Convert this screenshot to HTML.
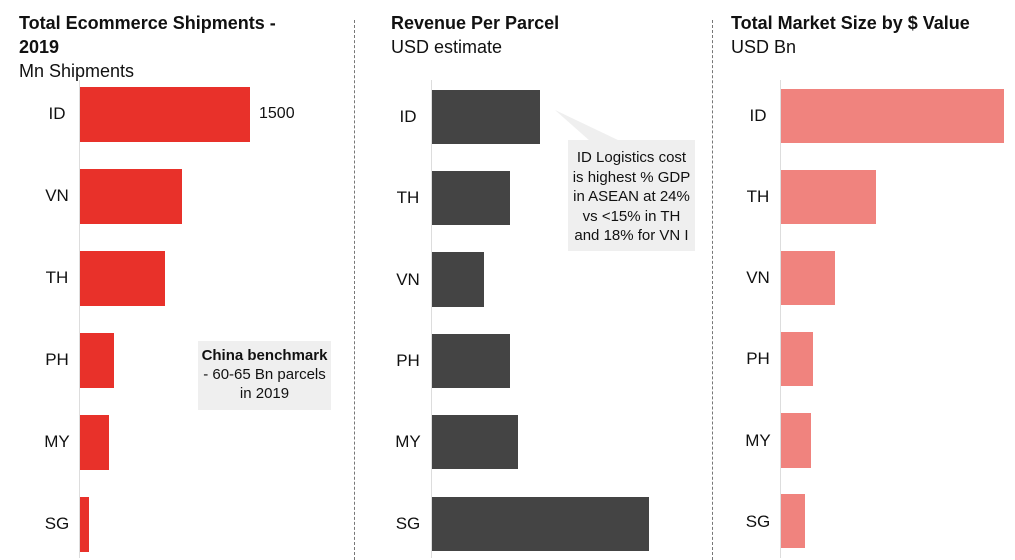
<!DOCTYPE html>
<html><head><style>
body{margin:0;width:1015px;height:558px;background:#fff;position:relative;overflow:hidden;font-family:"Liberation Sans",Arial,sans-serif;color:#111}
.a{position:absolute}
.t{font-weight:bold;font-size:18px;line-height:24px}
.s{font-size:18px;line-height:24px}
.l{position:absolute;font-size:17px;width:40px;text-align:center}
.r{background:#e8312a;position:absolute}
.g{background:#444;position:absolute}
.p{background:#f0837e;position:absolute}
.d{position:absolute;top:20px;height:540px;border-left:1px dashed #777}
</style></head><body>
<div class="a t" style="left:19px;top:11px">Total Ecommerce Shipments -<br>2019</div>
<div class="a s" style="left:19px;top:59px">Mn Shipments</div>
<div class="a t" style="left:391px;top:11px">Revenue Per Parcel</div>
<div class="a s" style="left:391px;top:35px">USD estimate</div>
<div class="a t" style="left:731px;top:11px">Total Market Size by $ Value</div>
<div class="a s" style="left:731px;top:35px">USD Bn</div>
<div class="d" style="left:354px"></div>
<div class="d" style="left:712px"></div>
<div class="a" style="left:79px;top:80px;height:478px;border-left:1px solid #ddd"></div>
<div class="a" style="left:431px;top:80px;height:478px;border-left:1px solid #ddd"></div>
<div class="a" style="left:780px;top:80px;height:478px;border-left:1px solid #ddd"></div>

<div class="r" style="left:80px;top:87px;width:170px;height:55px"></div>
<div class="r" style="left:80px;top:169px;width:102px;height:55px"></div>
<div class="r" style="left:80px;top:251px;width:85px;height:55px"></div>
<div class="r" style="left:80px;top:333px;width:34px;height:55px"></div>
<div class="r" style="left:80px;top:415px;width:29px;height:55px"></div>
<div class="r" style="left:80px;top:497px;width:9px;height:55px"></div>
<div class="a" style="left:259px;top:105px;font-size:16px">1500</div>
<div class="l" style="left:37px;top:104px">ID</div>
<div class="l" style="left:37px;top:186px">VN</div>
<div class="l" style="left:37px;top:268px">TH</div>
<div class="l" style="left:37px;top:350px">PH</div>
<div class="l" style="left:37px;top:432px">MY</div>
<div class="l" style="left:37px;top:514px">SG</div>
<div class="a" style="left:198px;top:341px;width:133px;height:69px;background:#efefef;text-align:center;font-size:15px;line-height:19px;padding-top:5px;box-sizing:border-box"><b>China benchmark</b><br>- 60-65 Bn parcels<br>in 2019</div>

<div class="g" style="left:432px;top:90px;width:108px;height:54px"></div>
<div class="g" style="left:432px;top:171px;width:78px;height:54px"></div>
<div class="g" style="left:432px;top:252px;width:52px;height:55px"></div>
<div class="g" style="left:432px;top:334px;width:78px;height:54px"></div>
<div class="g" style="left:432px;top:415px;width:86px;height:54px"></div>
<div class="g" style="left:432px;top:497px;width:217px;height:54px"></div>
<div class="l" style="left:388px;top:107px">ID</div>
<div class="l" style="left:388px;top:188px">TH</div>
<div class="l" style="left:388px;top:270px">VN</div>
<div class="l" style="left:388px;top:351px">PH</div>
<div class="l" style="left:388px;top:432px">MY</div>
<div class="l" style="left:388px;top:514px">SG</div>
<svg class="a" style="left:550px;top:105px" width="80" height="40"><polygon points="5,5 40,36 70,36" fill="#efefef"/></svg>
<div class="a" style="left:568px;top:140px;width:127px;height:111px;background:#efefef;text-align:center;font-size:15px;line-height:19.5px;padding-top:8px;box-sizing:border-box">ID Logistics cost<br>is highest % GDP<br>in ASEAN at 24%<br>vs &lt;15% in TH<br>and 18% for VN I</div>

<div class="p" style="left:781px;top:89px;width:223px;height:54px"></div>
<div class="p" style="left:781px;top:170px;width:95px;height:54px"></div>
<div class="p" style="left:781px;top:251px;width:54px;height:54px"></div>
<div class="p" style="left:781px;top:332px;width:32px;height:54px"></div>
<div class="p" style="left:781px;top:413px;width:30px;height:55px"></div>
<div class="p" style="left:781px;top:494px;width:24px;height:54px"></div>
<div class="l" style="left:738px;top:106px">ID</div>
<div class="l" style="left:738px;top:187px">TH</div>
<div class="l" style="left:738px;top:268px">VN</div>
<div class="l" style="left:738px;top:349px">PH</div>
<div class="l" style="left:738px;top:431px">MY</div>
<div class="l" style="left:738px;top:512px">SG</div>
</body></html>
